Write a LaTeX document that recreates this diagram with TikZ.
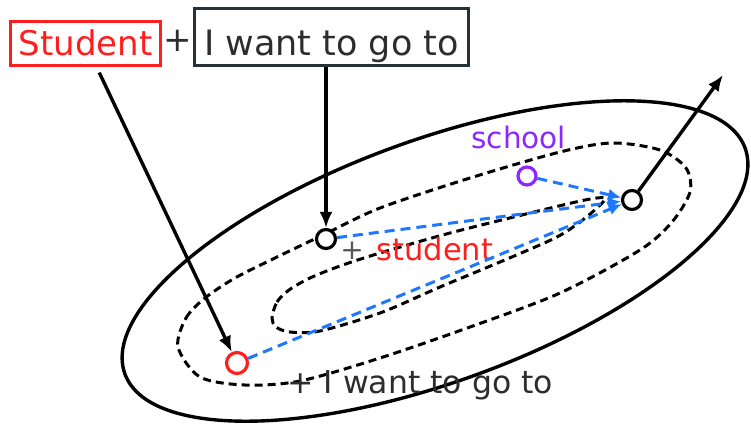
\documentclass[tikz,border=0pt]{standalone}
\usepackage{fontspec}
\setmainfont{DejaVu Sans}
\usetikzlibrary{arrows.meta}
\definecolor{wordred}{RGB}{255,30,30}
\definecolor{boxgray}{RGB}{38,50,56}
\definecolor{ink}{RGB}{45,45,45}
\definecolor{violet}{RGB}{140,40,255}
\definecolor{vecblue}{RGB}{30,120,255}
\tikzset{
  frame/.style={draw, line width=3.2pt, inner sep=0pt},
  dot/.style={circle, draw, line width=3.2pt, minimum size=19pt, inner sep=0pt, fill=white},
  pointer/.style={line width=3.4pt, -{Latex[length=16pt,width=13pt]}},
  shiftline/.style={draw=vecblue, line width=3pt, dash pattern=on 10pt off 6pt, -{Latex[length=13pt,width=12pt]}},
  contour/.style={line width=3pt, dash pattern=on 8pt off 5pt}
}
\newcommand{\fs}[1]{\fontsize{#1}{#1}\selectfont}

\begin{document}
\begin{tikzpicture}[x=1pt,y=-1pt]
\useasboundingbox (0,0) rectangle (751,429);
% the three contours
\draw[line width=3.4pt] (435,261) circle [x radius=330, y radius=121, rotate=20];
\draw[contour] plot [smooth cycle] coordinates {(178,347) (186,318) (205,298) (235,278) (275,258) (325,234) (380,208) (470,178) (560,152) (612,143) (660,150) (686,168) (690,192) (672,222) (640,250) (560,293) (470,327) (380,358) (300,381) (245,385) (200,377)};
\draw[contour] plot [smooth cycle] coordinates {(272,318) (277,302) (289,290) (310,278) (340,266) (380,253) (450,233) (530,213) (585,200) (605,198) (598,207) (580,222) (555,238) (500,262) (440,287) (380,313) (320,331) (290,332) (276,327)};

% headline
\node[frame, draw=wordred, text=wordred, minimum width=150pt, minimum height=44pt, text height=23pt, text depth=0pt, font=\fs{34}] (studentbox) at (85.5,43.5) {Student};
\node[text=ink, font=\fs{34}] (plus) at (178,41) {+};
\node[frame, draw=boxgray, text=ink, minimum width=274pt, minimum height=57pt, text height=36pt, text depth=0pt, font=\fs{35}] (iwantbox) at (331.5,37) {I want to go to};

% points
\node[dot, draw=wordred, minimum size=21pt] (x1) at (237,363) {};
\node[dot] (x2) at (326,239) {};
\node[dot] (x3) at (632,200) {};
\node[dot, draw=violet, minimum size=18pt] (sch) at (527,176) {};
\coordinate (up) at (723,75);

% labels
\node[anchor=base west, text=violet, font=\fs{29.5}] (schlabel) at (468,148) {school};
\node[text=ink!80, font=\fs{28}] (plus2) at (352,251) {+};
\node[anchor=base west, text=wordred, font=\fs{30.5}] (stlabel) at (373,260) {student};
\node[anchor=base west, text=ink, font=\fs{31.5}] (gotolabel) at (284,393) {+ I want to go to};

% arrows
\draw[pointer, shorten <=6pt] (studentbox) -- (x1);
\draw[pointer] (iwantbox.south -| x2) -- (x2);
\draw[pointer] (x3) -- (up);
\draw[shiftline] (x1) -- (x3);
\draw[shiftline] (x2) -- (x3);
\draw[shiftline] (sch) -- (x3);
\end{tikzpicture}
\end{document}
